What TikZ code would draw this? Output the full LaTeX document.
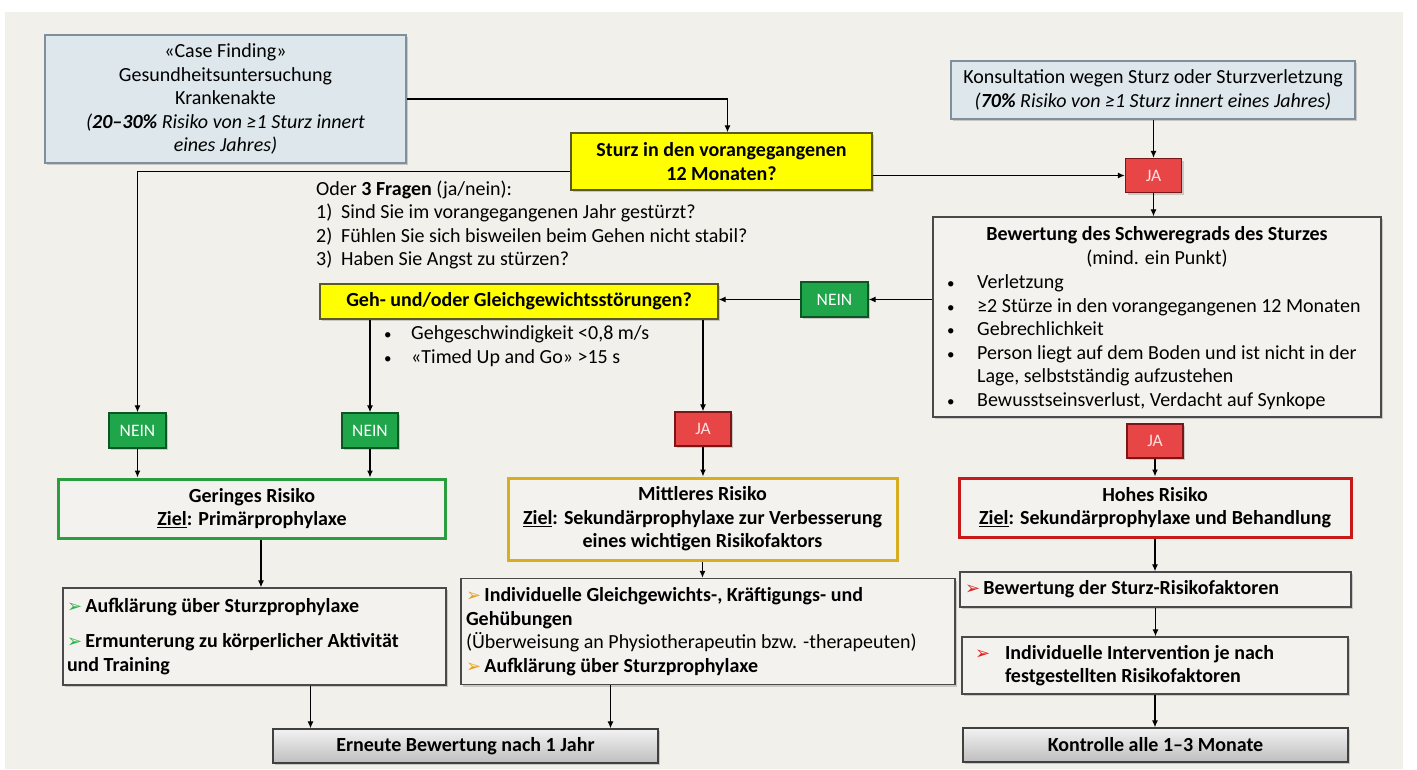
\documentclass[tikz,border=0pt]{standalone}
\usepackage{fontspec}
\setmainfont{Carlito}
\newfontfamily\dingfont{DejaVu Sans}
\usetikzlibrary{arrows.meta,shadows,positioning}

\definecolor{hintergrund}{HTML}{F2F0EB}
\definecolor{kastenfill}{HTML}{F4F2EE}
\definecolor{rahmengrau}{HTML}{4A4A4A}
\definecolor{blaufill}{HTML}{DDE7EC}
\definecolor{blaurahmen}{HTML}{7F909C}
\definecolor{gelb}{HTML}{FFFF00}
\definecolor{gelbrahmen}{HTML}{5A5A28}
\definecolor{jarot}{HTML}{E84646}
\definecolor{jarahmen}{HTML}{7A1616}
\definecolor{jatext}{HTML}{FFE0E0}
\definecolor{neingruen}{HTML}{1FA64A}
\definecolor{neinrahmen}{HTML}{0E5526}
\definecolor{geringgruen}{HTML}{2A9D3F}
\definecolor{mittelgold}{HTML}{D9AE1E}
\definecolor{hochrot}{HTML}{C91818}
\definecolor{endoben}{HTML}{F2F2F2}
\definecolor{endunten}{HTML}{BEBEBE}
\definecolor{pfeilgruen}{HTML}{2DB34A}
\definecolor{pfeilorange}{HTML}{E8A020}
\definecolor{pfeilrot}{HTML}{E02020}

\newcommand\grund{\fontsize{20}{23.5}\selectfont}
\newcommand\knopf{\fontsize{17.5}{20}\selectfont}
\newcommand\pfeil[1]{{\dingfont\color{#1}\fontsize{18}{18}\selectfont ➢}}
\newcommand\punkt{{\fontsize{15}{15}\selectfont•}}
\newcommand\pkt{\makebox[30pt][l]{\punkt}}

\tikzset{
  kasten/.style={draw=rahmengrau, line width=1.3pt, fill=kastenfill, inner sep=0pt, font=\grund,
    drop shadow={shadow xshift=2pt, shadow yshift=-2pt, opacity=0.35}},
  blaukasten/.style={kasten, draw=blaurahmen, fill=blaufill, align=center},
  gelbkasten/.style={kasten, draw=gelbrahmen, fill=gelb, align=center, font=\grund\bfseries},
  jakasten/.style={kasten, draw=jarahmen, fill=jarot, text=jatext, font=\knopf,
    minimum width=56pt, minimum height=34pt},
  neinkasten/.style={kasten, draw=neinrahmen, fill=neingruen, text=white, font=\knopf, minimum height=35pt},
  risikokasten/.style={draw=#1, line width=3pt, fill=kastenfill, inner sep=0pt, align=center,
    font=\grund\bfseries, drop shadow={shadow xshift=1.5pt, shadow yshift=-1.5pt, opacity=0.3}},
  massnahme/.style={kasten, align=flush left},
  endkasten/.style={kasten, draw=black!75, top color=endoben, bottom color=endunten, font=\grund\bfseries},
  schrift/.style={inner sep=0pt, font=\grund, align=flush left},
  pfeilstrich/.style={-{Latex[length=7pt,width=6pt]}, line width=1.2pt, black}
}

\begin{document}
\begin{tikzpicture}[x=1pt,y=-1pt]
  \useasboundingbox (0,0) rectangle (1417,769);
  % Hintergrund
  \fill[white] (0,0) rectangle (1417,769);
  \fill[hintergrund] (5,12) rectangle (1403,769);

  % Einstieg oben
  \node[blaukasten, minimum width=361pt, minimum height=128pt] (casefinding) at (225.5,99)
    {«Case Finding»\\Gesundheitsuntersuchung\\Krankenakte\\\textit{(\textbf{20–30\%} Risiko von ≥1 Sturz innert}\\\textit{eines Jahres)}};
  \node[blaukasten, minimum width=404pt, minimum height=58pt] (konsultation) at (1153,90)
    {Konsultation wegen Sturz oder Sturzverletzung\\\textit{(\textbf{70\%} Risiko von ≥1 Sturz innert eines Jahres)}};

  % erste Frage
  \node[gelbkasten, minimum width=301pt, minimum height=57pt] (sturz) at (721.5,161.5)
    {Sturz in den vorangegangenen\\12 Monaten?};
  \node[jakasten] (ja1) at (1153.5,175.5) {JA};
  \node[schrift, anchor=west] (fragen) at (316,225)
    {Oder \textbf{3 Fragen} (ja/nein):\\
     \makebox[25pt][l]{1)}Sind Sie im vorangegangenen Jahr gestürzt?\\
     \makebox[25pt][l]{2)}Fühlen Sie sich bisweilen beim Gehen nicht stabil?\\
     \makebox[25pt][l]{3)}Haben Sie Angst zu stürzen?};

  % Schweregrad des Sturzes
  \node[kasten, minimum width=448pt, minimum height=200pt] (schwere) at (1157,317) {};
  \node[schrift, align=center] (schweretitel) at (1157,247)
    {\textbf{Bewertung des Schweregrads des Sturzes}\\(mind. ein Punkt)};
  \node[schrift, anchor=west] (schwereliste) at (947,342)
    {\pkt Verletzung\\
     \pkt ≥2 Stürze in den vorangegangenen 12 Monaten\\
     \pkt Gebrechlichkeit\\
     \pkt Person liegt auf dem Boden und ist nicht in der\\
     \hspace*{30pt}Lage, selbstständig aufzustehen\\
     \pkt Bewusstseinsverlust, Verdacht auf Synkope};
  \node[neinkasten, minimum width=67pt] (nein1) at (834.5,299.5) {NEIN};

  % Gang und Gleichgewicht
  \node[gelbkasten, minimum width=398pt, minimum height=35pt] (gang) at (519,301.5)
    {Geh- und/oder Gleichgewichtsstörungen?};
  \node[schrift, anchor=west] (gangtest) at (384,346)
    {\makebox[27pt][l]{\punkt}Gehgeschwindigkeit <0,8 m/s\\\makebox[27pt][l]{\punkt}«Timed Up and Go» >15 s};

  % Antworten
  \node[neinkasten, minimum width=57pt] (nein2) at (137.5,430.5) {NEIN};
  \node[neinkasten, minimum width=56pt] (nein3) at (370,430.5) {NEIN};
  \node[jakasten] (ja2) at (703,429) {JA};
  \node[jakasten] (ja3) at (1155,441) {JA};

  % Risikostufen
  \node[risikokasten=geringgruen, minimum width=387pt, minimum height=59pt] (gering) at (252,508.5)
    {Geringes Risiko\\\underline{Ziel}: Primärprophylaxe};
  \node[risikokasten=mittelgold, minimum width=389pt, minimum height=82pt] (mittel) at (702.5,519)
    {Mittleres Risiko\\\underline{Ziel}: Sekundärprophylaxe zur Verbesserung\\eines wichtigen Risikofaktors};
  \node[risikokasten=hochrot, minimum width=392pt, minimum height=59pt] (hoch) at (1155,507.5)
    {Hohes Risiko\\\underline{Ziel}: Sekundärprophylaxe und Behandlung};

  % Massnahmen
  \node[massnahme, minimum width=383pt, minimum height=97pt, text width=375pt] (aufklaerung) at (254.5,636.5)
    {\pfeil{pfeilgruen}\,\textbf{Aufklärung über Sturzprophylaxe}\\[12pt]
     \pfeil{pfeilgruen}\,\textbf{Ermunterung zu körperlicher Aktivität}\\
     \textbf{und Training}};
  \node[massnahme, minimum width=494pt, minimum height=106pt, text width=484pt] (massnahmen) at (708,631.5)
    {\pfeil{pfeilorange}\,\textbf{Individuelle Gleichgewichts-, Kräftigungs- und}\\
     \textbf{Gehübungen}\\
     (Überweisung an Physiotherapeutin bzw. -therapeuten)\\
     \pfeil{pfeilorange}\,\textbf{Aufklärung über Sturzprophylaxe}};
  \node[massnahme, minimum width=391pt, minimum height=35pt, text width=381pt] (sturzfaktoren) at (1155.5,589.5)
    {\pfeil{pfeilrot}\,\textbf{Bewertung der Sturz-Risikofaktoren}};
  \node[massnahme, minimum width=386pt, minimum height=57pt, text width=360pt] (intervention) at (1155,665.5)
    {\makebox[30pt][l]{\pfeil{pfeilrot}}\textbf{Individuelle Intervention je nach}\\
     \hspace*{30pt}\textbf{festgestellten Risikofaktoren}};

  % Abschluss
  \node[endkasten, minimum width=385pt, minimum height=34pt] (erneut) at (465.5,746) {Erneute Bewertung nach 1 Jahr};
  \node[endkasten, minimum width=385pt, minimum height=34pt] (kontrolle) at (1155.5,745) {Kontrolle alle 1–3 Monate};

  % Verbindungen
  \draw[pfeilstrich] (casefinding.east) -| ([xshift=6pt]sturz.north);
  \draw[pfeilstrich] ([yshift=-10pt]sturz.west) -| (nein2.north);
  \draw[pfeilstrich] (sturz.east |- ja1.west) -- (ja1.west);
  \draw[pfeilstrich] (ja1.north |- konsultation.south) -- (ja1.north);
  \draw[pfeilstrich] (ja1.south) -- (ja1.south |- schwere.north);
  \draw[pfeilstrich] (schwere.west |- nein1.east) -- (nein1.east);
  \draw[pfeilstrich] (nein1.west) -- (gang.east |- nein1.west);
  \draw[pfeilstrich] (gang.south -| nein3.north) -- (nein3.north);
  \draw[pfeilstrich] (gang.south -| ja2.north) -- (ja2.north);
  \draw[pfeilstrich] (nein2.south) -- (nein2.south |- gering.north);
  \draw[pfeilstrich] (nein3.south) -- (nein3.south |- gering.north);
  \draw[pfeilstrich] (ja2.south) -- (ja2.south |- mittel.north);
  \draw[pfeilstrich] (ja3.south) -- (ja3.south |- hoch.north);
  \draw[pfeilstrich] ([xshift=9pt]gering.south) -- ([xshift=9pt]gering.south |- aufklaerung.north);
  \draw[pfeilstrich] (mittel.south) -- (mittel.south |- massnahmen.north);
  \draw[pfeilstrich] (hoch.south) -- (hoch.south |- sturzfaktoren.north);
  \draw[pfeilstrich] (sturzfaktoren.south) -- (sturzfaktoren.south |- intervention.north);
  \draw[pfeilstrich] (intervention.south) -- (intervention.south |- kontrolle.north);
  \draw[pfeilstrich] ([xshift=-155pt]erneut.north |- aufklaerung.south) -- ([xshift=-155pt]erneut.north);
  \draw[pfeilstrich] ([xshift=145pt]erneut.north |- massnahmen.south) -- ([xshift=145pt]erneut.north);
\end{tikzpicture}
\end{document}
